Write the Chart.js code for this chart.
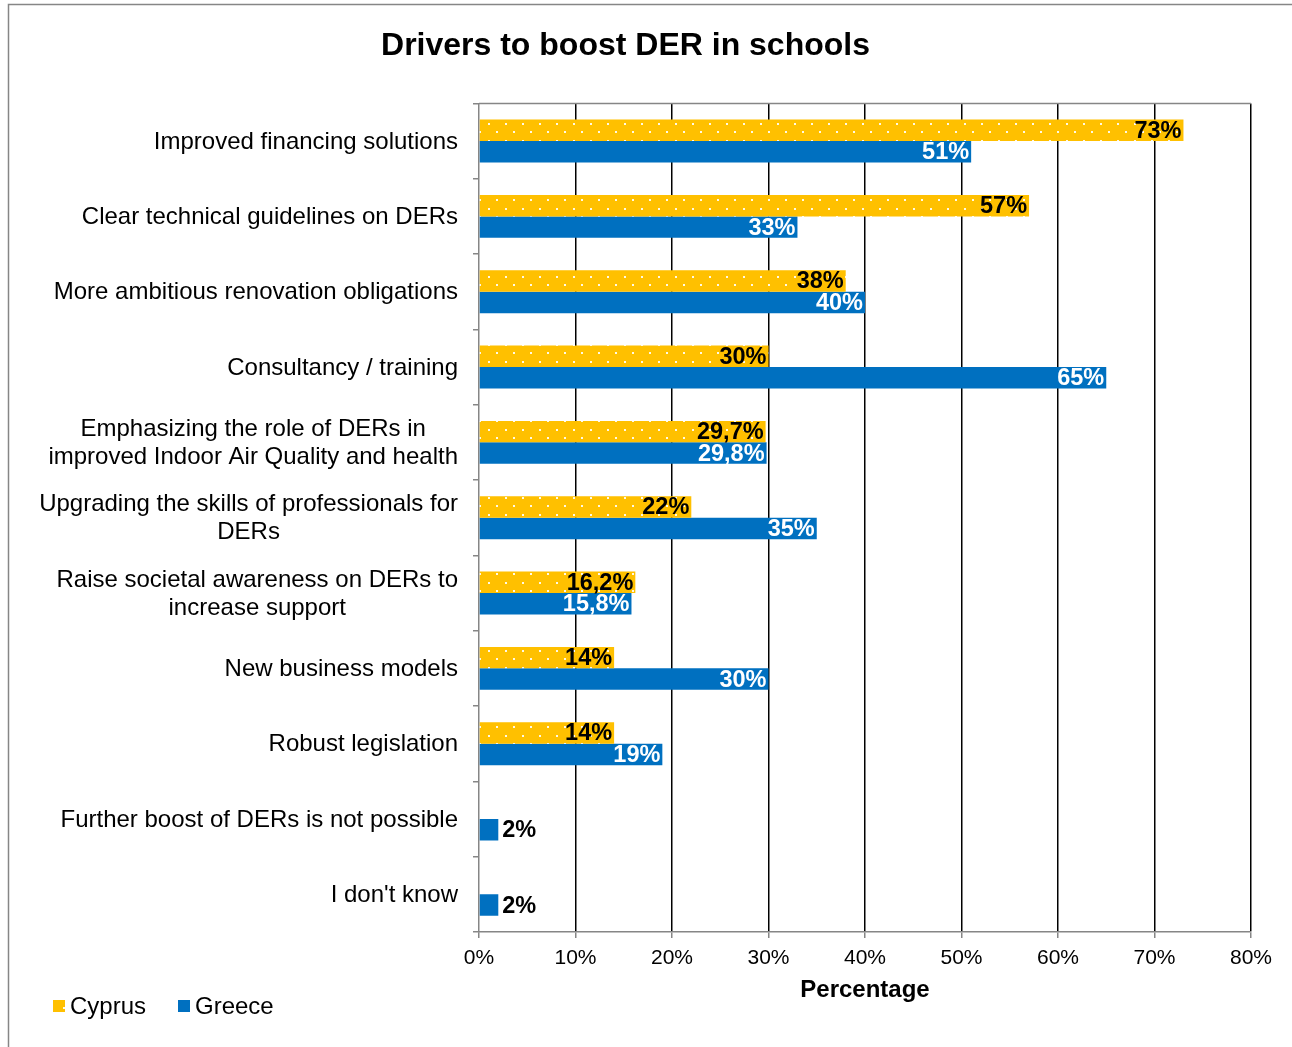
<!DOCTYPE html>
<html>
<head>
<meta charset="utf-8">
<title>Drivers to boost DER in schools</title>
<script src="https://cdn.jsdelivr.net/npm/chart.js@4.4.1/dist/chart.umd.min.js"></script>
<style>
  html, body { margin: 0; padding: 0; background: #fff; }
  #wrap { width: 1292px; height: 1047px; }
</style>
</head>
<body>
<div id="wrap"><canvas id="derChart" width="1292" height="1047"></canvas></div>
<script>
// ---- data ----
const categories = [
  "Improved financing solutions",
  "Clear technical guidelines on DERs",
  "More ambitious renovation obligations",
  "Consultancy / training",
  ["Emphasizing the role of DERs in", "improved Indoor Air Quality and health"],
  ["Upgrading the skills of professionals for", "DERs"],
  ["Raise societal awareness on DERs to", "increase support"],
  "New business models",
  "Robust legislation",
  "Further boost of DERs is not possible",
  "I don't know"
];
const cyprusValues = [73, 57, 38, 30, 29.7, 22, 16.2, 14, 14, 0, 0];
const greeceValues = [51, 33, 40, 65, 29.8, 35, 15.8, 30, 19, 2, 2];
const seriesNames = ["Cyprus", "Greece"];
const xMin = 0, xMax = 80, xStep = 10;

const FONT = 'Arial, "Liberation Sans", Helvetica, sans-serif';
const YELLOW = "#FFC000";
const BLUE = "#0070C0";
const AXIS_GREY = "#868686";

Chart.defaults.font.family = FONT;
Chart.defaults.color = "#000";

// yellow fill with small white dots
function dotPattern(base) {
  const c = document.createElement("canvas");
  c.width = 17; c.height = 17;
  const g = c.getContext("2d");
  g.fillStyle = base;
  g.fillRect(0, 0, 17, 17);
  g.fillStyle = "rgba(255,255,255,0.9)";
  g.fillRect(12, 4, 2, 2);
  g.fillRect(3, 12, 2, 2);
  return g.createPattern(c, "repeat");
}

const fmt = v => String(v).replace(".", ",") + "%";

// ---- plugins ----
const framePlugin = {
  id: "frame",
  beforeDraw(chart) {
    const { ctx, width, height } = chart;
    ctx.save();
    ctx.fillStyle = "#fff";
    ctx.fillRect(0, 0, width, height);
    ctx.strokeStyle = AXIS_GREY;
    ctx.lineWidth = 1.5;
    ctx.beginPath();
    ctx.moveTo(8.5, height);
    ctx.lineTo(8.5, 4.5);
    ctx.lineTo(width, 4.5);
    ctx.stroke();
    ctx.restore();
  },
  beforeDatasetsDraw(chart) {
    const { ctx, chartArea } = chart;
    ctx.save();
    ctx.strokeStyle = AXIS_GREY;
    ctx.lineWidth = 1.5;
    ctx.beginPath();
    ctx.moveTo(chartArea.left, chartArea.top);
    ctx.lineTo(chartArea.right, chartArea.top);
    ctx.stroke();
    ctx.restore();
  }
};

// category labels: block right-aligned to the axis, lines centred within the block
const categoryLabelPlugin = {
  id: "categoryLabels",
  afterDraw(chart) {
    const { ctx } = chart;
    const yScale = chart.scales.y;
    const rightEdge = chart.chartArea.left - 21;
    const lh = 28;
    ctx.save();
    ctx.font = "24px " + FONT;
    ctx.fillStyle = "#000";
    ctx.textAlign = "center";
    ctx.textBaseline = "middle";
    chart.data.labels.forEach((label, i) => {
      const lines = Array.isArray(label) ? label : [label];
      const w = Math.max(...lines.map(l => ctx.measureText(l).width));
      const cx = rightEdge - w / 2;
      const cy = yScale.getPixelForValue(i) + 1;
      lines.forEach((line, k) => {
        ctx.fillText(line, cx, cy + (k - (lines.length - 1) / 2) * lh);
      });
    });
    ctx.restore();
  }
};

// value labels at the inside end of each bar (outside when the bar is too short)
const valueLabelPlugin = {
  id: "valueLabels",
  afterDatasetsDraw(chart) {
    const { ctx } = chart;
    ctx.save();
    ctx.font = "bold 23.5px " + FONT;
    ctx.textBaseline = "middle";
    chart.data.datasets.forEach((ds, di) => {
      const meta = chart.getDatasetMeta(di);
      meta.data.forEach((bar, i) => {
        const v = ds.data[i];
        if (!v) return;
        const txt = fmt(v);
        const tw = ctx.measureText(txt).width;
        const len = bar.x - bar.base;
        if (len < tw + 6) {
          ctx.textAlign = "left";
          ctx.fillStyle = "#000";
          ctx.fillText(txt, bar.x + 4, bar.y + 1);
        } else {
          ctx.textAlign = "right";
          ctx.fillStyle = ds.labelColor;
          ctx.fillText(txt, bar.x - 2, bar.y + 1);
        }
      });
    });
    ctx.restore();
  }
};

const legendPlugin = {
  id: "bottomLegend",
  afterDraw(chart) {
    const { ctx, height } = chart;
    const y = height - 41;
    const items = [{ x: 53 }, { x: 178 }];
    ctx.save();
    ctx.font = "24px " + FONT;
    ctx.textBaseline = "middle";
    ctx.textAlign = "left";
    chart.data.datasets.forEach((ds, i) => {
      const x = items[i].x;
      ctx.fillStyle = ds.backgroundColor;
      ctx.fillRect(x, y - 6, 12, 12);
      ctx.fillStyle = "#000";
      ctx.fillText(ds.label, x + 17, y + 1);
    });
    ctx.restore();
  }
};

// ---- chart ----
const ctx = document.getElementById("derChart").getContext("2d");

new Chart(ctx, {
  type: "bar",
  data: {
    labels: categories,
    datasets: [
      {
        label: seriesNames[0],
        data: cyprusValues,
        backgroundColor: dotPattern(YELLOW),
        labelColor: "#000",
        borderWidth: 0,
        categoryPercentage: 0.57,
        barPercentage: 1.0
      },
      {
        label: seriesNames[1],
        data: greeceValues,
        backgroundColor: BLUE,
        labelColor: "#fff",
        borderWidth: 0,
        categoryPercentage: 0.57,
        barPercentage: 1.0
      }
    ]
  },
  options: {
    indexAxis: "y",
    responsive: false,
    animation: false,
    layout: { padding: { top: 0, right: 41, bottom: 42, left: 0 } },
    plugins: {
      legend: { display: false },
      tooltip: { enabled: false },
      title: {
        display: true,
        text: "Drivers to boost DER in schools",
        font: { size: 32, weight: "bold" },
        color: "#000",
        padding: { top: 27, bottom: 38 }
      }
    },
    scales: {
      x: {
        min: xMin,
        max: xMax,
        ticks: {
          stepSize: xStep,
          callback: v => v + "%",
          font: { size: 21 },
          color: "#000",
          padding: 8
        },
        grid: {
          color: c => (c.index === 0 ? "rgba(0,0,0,0)" : "#000"),
          lineWidth: 1.5,
          tickColor: AXIS_GREY,
          tickLength: 6
        },
        border: { color: AXIS_GREY, width: 1.5 },
        title: {
          display: true,
          text: "Percentage",
          font: { size: 24, weight: "bold" },
          color: "#000",
          padding: { top: -3, bottom: 0 }
        }
      },
      y: {
        ticks: { display: false },
        grid: {
          drawOnChartArea: false,
          offset: true,
          tickLength: 6,
          tickColor: AXIS_GREY,
          lineWidth: 1.5
        },
        border: { color: AXIS_GREY, width: 1.5 },
        afterFit: s => { s.width = 479; }
      }
    }
  },
  plugins: [framePlugin, categoryLabelPlugin, valueLabelPlugin, legendPlugin]
});
</script>
</body>
</html>
